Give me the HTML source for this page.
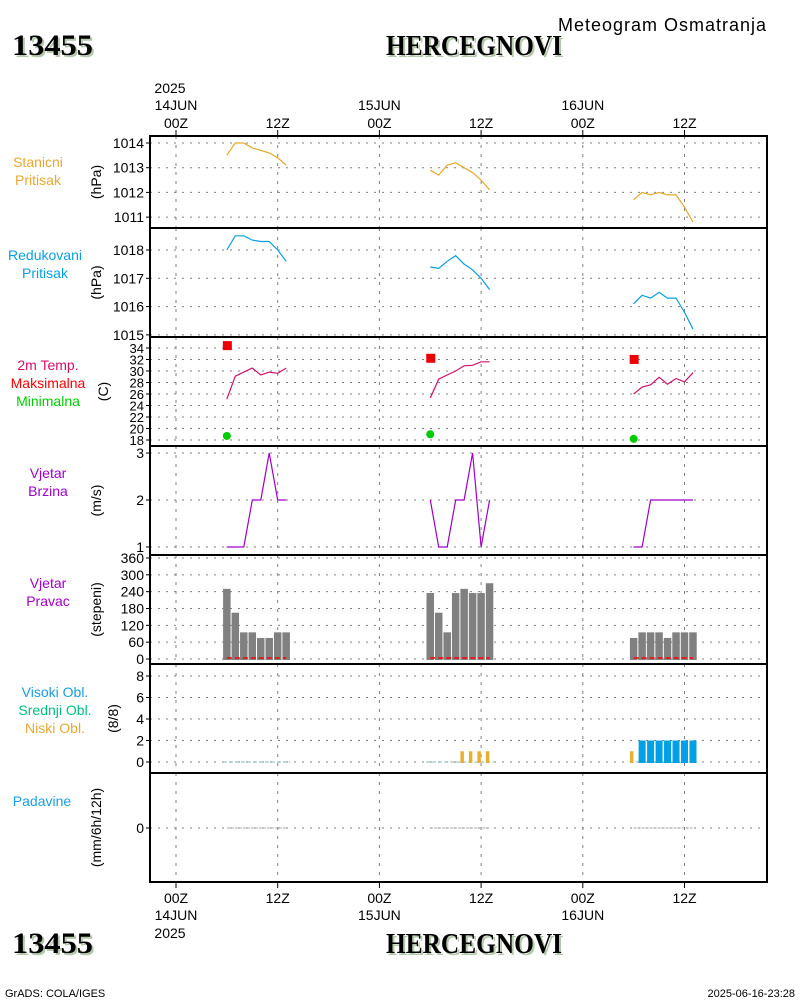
<!DOCTYPE html>
<html><head><meta charset="utf-8"><style>
html,body{margin:0;padding:0;background:#fff;}
svg{display:block;font-family:"Liberation Sans",sans-serif;}
</style></head><body>
<svg id="chart" width="800" height="1000" viewBox="0 0 800 1000" xmlns="http://www.w3.org/2000/svg">
<rect x="0" y="0" width="800" height="1000" fill="#fff"/>
<g>
<text x="14" y="57" font-family="Liberation Serif,serif" font-weight="bold" font-size="30" fill="#b4c8ac" textLength="81" lengthAdjust="spacingAndGlyphs">13455</text>
<text x="12" y="55" font-family="Liberation Serif,serif" font-weight="bold" font-size="30" fill="#000" textLength="81" lengthAdjust="spacingAndGlyphs">13455</text>
<text x="388" y="57" font-family="Liberation Serif,serif" font-weight="bold" font-size="28" fill="#b4c8ac" textLength="176" lengthAdjust="spacingAndGlyphs">HERCEGNOVI</text>
<text x="386" y="55" font-family="Liberation Serif,serif" font-weight="bold" font-size="28" fill="#000" textLength="176" lengthAdjust="spacingAndGlyphs">HERCEGNOVI</text>
<text x="558" y="31" font-size="18" fill="#000" textLength="208">Meteogram Osmatranja</text>
</g>
<g>
<text x="14" y="955" font-family="Liberation Serif,serif" font-weight="bold" font-size="30" fill="#b4c8ac" textLength="81" lengthAdjust="spacingAndGlyphs">13455</text>
<text x="12" y="953" font-family="Liberation Serif,serif" font-weight="bold" font-size="30" fill="#000" textLength="81" lengthAdjust="spacingAndGlyphs">13455</text>
<text x="388" y="955" font-family="Liberation Serif,serif" font-weight="bold" font-size="28" fill="#b4c8ac" textLength="176" lengthAdjust="spacingAndGlyphs">HERCEGNOVI</text>
<text x="386" y="953" font-family="Liberation Serif,serif" font-weight="bold" font-size="28" fill="#000" textLength="176" lengthAdjust="spacingAndGlyphs">HERCEGNOVI</text>
<text x="5" y="997" font-size="11" fill="#000">GrADS: COLA/IGES</text>
<text x="795" y="997" font-size="11" fill="#000" text-anchor="end">2025-06-16-23:28</text>
</g>
<g id="plot"></g>
</svg>
<script>
// ---- data ----
const hours1 = [6,7,8,9,10,11,12,13];
const hours2 = [30,31,32,33,34,35,36,37];
const hours3 = [54,55,56,57,58,59,60,61];
const stnPres1 = [1013.5,1014.0,1014.0,1013.8,1013.7,1013.6,1013.4,1013.1];
const stnPres2 = [1012.9,1012.7,1013.1,1013.2,1013.0,1012.8,1012.5,1012.1];
const stnPres3 = [1011.7,1012.0,1011.9,1012.0,1011.9,1011.9,1011.4,1010.8];
const redPres1 = [1018.0,1018.5,1018.5,1018.35,1018.3,1018.3,1018.0,1017.6];
const redPres2 = [1017.4,1017.35,1017.6,1017.8,1017.5,1017.3,1017.0,1016.6];
const redPres3 = [1016.1,1016.4,1016.3,1016.5,1016.3,1016.3,1015.8,1015.2];
const temp1 = [25.1,29.1,29.8,30.5,29.3,29.8,29.6,30.5];
const temp2 = [25.3,28.6,29.3,30.0,30.9,31.0,31.6,31.6];
const temp3 = [26.0,27.2,27.6,28.9,27.7,28.7,28.1,29.7];
const tmaxHours = [6,30,54];
const tmaxVals = [34.5,32.3,32.1];
const tminVals = [18.7,19.0,18.2];
const wspd1 = [1,1,1,2,2,3,2,2];
const wspd2 = [2,1,1,2,2,3,1,2];
const wspd3 = [1,1,2,2,2,2,2,2];
const wdir1 = [250,165,95,95,75,75,95,95];
const wdir2 = [235,165,95,235,250,235,235,270];
const wdir3 = [75,95,95,95,75,95,95,95];
const lowCld1 = [0,0,0,0,0,0,0,0];
const lowCld2 = [0,0,0,0,1,1,1,1];
const lowCld3 = [1,0,0,0,0,0,0,0];
const highCld1 = [0,0,0,0,0,0,0,0];
const highCld2 = [0,0,0,0,0,0,0,0];
const highCld3 = [0,2,2,2,2,2,2,2];
const precip1 = [0,0,0,0,0,0,0,0];
const precip2 = [0,0,0,0,0,0,0,0];
const precip3 = [0,0,0,0,0,0,0,0];
const presTicks = [1011,1012,1013,1014];
const redTicks = [1015,1016,1017,1018];
const tempTicks = [18,20,22,24,26,28,30,32,34];
const wspdTicks = [1,2,3];
const wdirTicks = [0,60,120,180,240,300,360];
const cldTicks = [0,2,4,6,8];
const precTicks = [0];
const timeTicks = [0,12,24,36,48,60];
const timeLabels = ['00Z','12Z','00Z','12Z','00Z','12Z'];

// ---- scales ----
const X0 = 150, X1 = 767;
const xT = h => 176 + h * 8.475;
const yP = v => 143 + (1014 - v) * 24.7;
const yR = v => 250 + (1018 - v) * 28.3;
const yTm = v => 348 + (34 - v) * 5.75;
const yW = v => 453 + (3 - v) * 47;
const yD = v => 659 - v * 0.2806;
const yC = v => 762 - v * 10.75;
const yPr = v => 828 - v * 10;

const NS = 'http://www.w3.org/2000/svg';
const plot = document.getElementById('plot');
function mk(tag, attrs, parent) {
  const e = document.createElementNS(NS, tag);
  for (const k in attrs) e.setAttribute(k, attrs[k]);
  (parent || plot).appendChild(e);
  return e;
}
function txt(x, y, s, attrs, parent) {
  const e = mk('text', Object.assign({x: x, y: y, 'font-size': 14}, attrs || {}), parent);
  e.textContent = s;
  return e;
}

const panels = [
  {top:136, bot:228, ticks:presTicks, y:yP, name:'station-pressure', unit:'(hPa)', ux:101, lx:38, labels:[['Stanicni','#e8a830'],['Pritisak','#e8a830']], ly:167},
  {top:228, bot:337, ticks:redTicks, y:yR, name:'reduced-pressure', unit:'(hPa)', ux:101, lx:45, labels:[['Redukovani','#0a9fe0'],['Pritisak','#0a9fe0']], ly:260},
  {top:337, bot:446, ticks:tempTicks, y:yTm, name:'temperature', unit:'(C)', ux:108, lx:48, labels:[['2m Temp.','#d0106a'],['Maksimalna','#ff0000'],['Minimalna','#00cc00']], ly:370},
  {top:446, bot:555, ticks:wspdTicks, y:yW, name:'wind-speed', unit:'(m/s)', ux:101, lx:48, labels:[['Vjetar','#a000c8'],['Brzina','#a000c8']], ly:478},
  {top:555, bot:664, ticks:wdirTicks, y:yD, name:'wind-direction', unit:'(stepeni)', ux:101, lx:48, labels:[['Vjetar','#a000c8'],['Pravac','#a000c8']], ly:588},
  {top:664, bot:773, ticks:cldTicks, y:yC, name:'cloud-cover', unit:'(8/8)', ux:118, lx:55, labels:[['Visoki Obl.','#1a9ee0'],['Srednji Obl.','#00c080'],['Niski Obl.','#e8a830']], ly:697},
  {top:773, bot:882, ticks:precTicks, y:yPr, name:'precipitation', unit:'(mm/6h/12h)', ux:101, lx:42, labels:[['Padavine','#1a9ee0']], ly:806}
];

panels.forEach(p => {
  const g = mk('g', {});
  
  
  p.g = g;
  p.ticks.forEach(t => {
    const yy = p.y(t);
    if (yy > p.top + 1 && yy < p.bot - 1) {
      const l = mk('line', {x1:X0, x2:X1, y1:yy, y2:yy, stroke:'#808080', 'stroke-width':1, 'stroke-dasharray':'2,6'}, g);
      
      
    }
    mk('line', {x1:X0-4, x2:X0, y1:yy, y2:yy, stroke:'#000'}, g);
    const tl = txt(X0-6, yy+5, String(t), {'text-anchor':'end', 'font-size': p.name==='temperature'?13:14}, g);
    
    
  });
  timeTicks.forEach(h => {
    const l = mk('line', {x1:xT(h), x2:xT(h), y1:p.top, y2:p.bot, stroke:'#808080', 'stroke-width':1, 'stroke-dasharray':'3,6'}, g);
    
    
  });
  const uy = (p.top + p.bot) / 2;
  const u = txt(0, 0, p.unit, {'text-anchor':'middle', transform:'translate('+p.ux+','+uy+') rotate(-90)'}, g);
  
  
  p.labels.forEach((lb, i) => {
    const t = txt(p.lx, p.ly + i*18, lb[0], {fill: lb[1], 'text-anchor':'middle'}, g);
    
    
  });
});

function series(hrs, vals, yf, color, name, g, extra) {
  const pts = hrs.map((h, i) => xT(h).toFixed(1) + ',' + yf(vals[i]).toFixed(1)).join(' ');
  const pl = mk('polyline', Object.assign({points: pts, fill:'none', stroke:color, 'stroke-width':1.2}, extra || {}), g);
  
  
}
const P = panels;
series(hours1, stnPres1, yP, '#e6a82a', 'station-pressure-line', P[0].g);
series(hours2, stnPres2, yP, '#e6a82a', 'station-pressure-line', P[0].g);
series(hours3, stnPres3, yP, '#e6a82a', 'station-pressure-line', P[0].g);
series(hours1, redPres1, yR, '#0a9fdc', 'reduced-pressure-line', P[1].g);
series(hours2, redPres2, yR, '#0a9fdc', 'reduced-pressure-line', P[1].g);
series(hours3, redPres3, yR, '#0a9fdc', 'reduced-pressure-line', P[1].g);
series(hours1, temp1, yTm, '#d0106a', 'temperature-line', P[2].g);
series(hours2, temp2, yTm, '#d0106a', 'temperature-line', P[2].g);
series(hours3, temp3, yTm, '#d0106a', 'temperature-line', P[2].g);
tmaxHours.forEach((h, i) => {
  const r = mk('rect', {x: xT(h)-4, y: yTm(tmaxVals[i])-4, width:9, height:9, fill:'#ee0000'}, P[2].g);
  
  
  const c = mk('circle', {cx: xT(h), cy: yTm(tminVals[i]), r:4, fill:'#00cc00'}, P[2].g);
  
  
});
series(hours1, wspd1, yW, '#a000c8', 'wind-speed-line', P[3].g);
series(hours2, wspd2, yW, '#a000c8', 'wind-speed-line', P[3].g);
series(hours3, wspd3, yW, '#a000c8', 'wind-speed-line', P[3].g);

function bars(hrs, vals, yf, color, w, name, g, dx) {
  hrs.forEach((h, i) => {
    const v = vals[i];
    if (v <= 0) return;
    const r = mk('rect', {x: xT(h) - w/2 + (dx||0), y: yf(v), width: w, height: yf(0) - yf(v) + 1, fill: color}, g);
    
    
  });
}
[[hours1,wdir1],[hours2,wdir2],[hours3,wdir3]].forEach(([h,v]) => {
  bars(h, v, yD, '#808080', 7.5, 'wind-direction-bar', P[4].g);
  const l = mk('line', {x1: xT(h[0]), x2: xT(h[h.length-1]), y1: yD(0)-1, y2: yD(0)-1, stroke:'#ff0000', 'stroke-width':1.5, 'stroke-dasharray':'5,3'}, P[4].g);
  
  
});
[[hours1,lowCld1,highCld1],[hours2,lowCld2,highCld2],[hours3,lowCld3,highCld3]].forEach(([h,lo,hi]) => {
  const l = mk('line', {x1: xT(h[0])-4, x2: xT(h[h.length-1])+4, y1: yC(0), y2: yC(0), stroke:'#60a0a0', 'stroke-width':0.8, 'stroke-dasharray':'4,2'}, P[5].g);
  
  
  bars(h, hi, yC, '#00a0e6', 7, 'high-cloud-bar', P[5].g);
  bars(h, lo, yC, '#e8b030', 3.5, 'low-cloud-bar', P[5].g, -2);
});
[[hours1,precip1],[hours2,precip2],[hours3,precip3]].forEach(([h,v]) => {
  series(h, v, yPr, '#909090', 'precipitation-line', P[6].g, {'stroke-width':0.8, 'stroke-dasharray':'3,1'});
});

panels.forEach(p => {
  const r = mk('rect', {x:X0, y:p.top, width:X1-X0, height:p.bot-p.top, fill:'none', stroke:'#000', 'stroke-width':2}, p.g);
  
  
});

const ax = mk('g', {});


timeTicks.forEach((h, i) => {
  mk('line', {x1:xT(h), x2:xT(h), y1:130, y2:136, stroke:'#000'}, ax);
  mk('line', {x1:xT(h), x2:xT(h), y1:882, y2:888, stroke:'#000'}, ax);
  const a = txt(xT(h), 128, timeLabels[i], {'text-anchor':'middle'}, ax);
  
  
  const b = txt(xT(h), 903, timeLabels[i], {'text-anchor':'middle'}, ax);
  
  
});
const dayLabels = ['14JUN','15JUN','16JUN'];
dayLabels.forEach((d, i) => {
  const a = txt(xT(i*24), 110, d, {'text-anchor':'middle'}, ax);
  
  
  const b = txt(xT(i*24), 920, d, {'text-anchor':'middle'}, ax);
  
  
});
const y1 = txt(xT(0)-6, 93, '2025', {'text-anchor':'middle'}, ax);


const y2 = txt(xT(0)-6, 938, '2025', {'text-anchor':'middle'}, ax);


</script>
</body></html>
